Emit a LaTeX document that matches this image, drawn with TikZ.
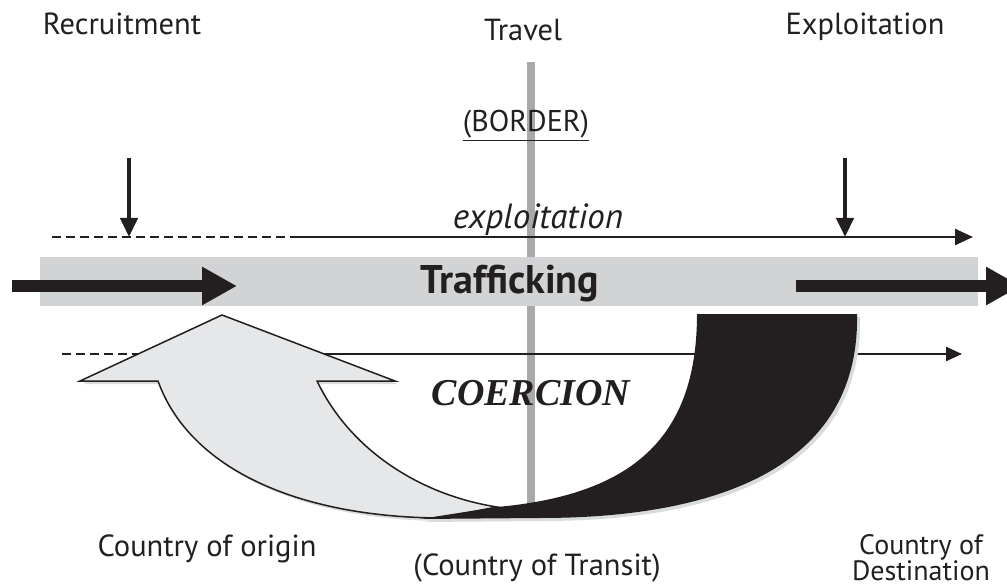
\documentclass[tikz,border=0pt]{standalone}
\usepackage{fontspec}
\setmainfont{PT Sans}
\newfontfamily\timesfont{Liberation Serif}
\usetikzlibrary{arrows.meta}

\definecolor{inkblack}{RGB}{35,31,32}
\definecolor{bandgray}{RGB}{209,211,212}
\definecolor{bordergray}{RGB}{167,169,172}
\definecolor{arrowgray}{RGB}{230,231,232}
\definecolor{shadowgray}{RGB}{218,219,221}

\tikzset{
  lbl/.style={font=\fontsize{30.5}{33}\selectfont, text=inkblack, anchor=base, inner sep=0pt},
  timeline/.style={draw=inkblack, line width=2.4pt},
  dashline/.style={timeline, dash pattern=on 9pt off 5pt},
  downarrow/.style={draw=inkblack, line width=4.5pt, -{Triangle[length=19pt,width=17pt]}},
  fatarrow/.style={draw=inkblack, line width=12pt, -{Triangle[length=35pt,width=36pt]}},
  shadowed/.style={preaction={fill=shadowgray, transform canvas={shift={(3pt,-3pt)}}}}
}

\begin{document}
\begin{tikzpicture}[x=1pt,y=-1pt]
  \useasboundingbox (0,0) rectangle (1007,588);

  % Border line
  \draw[bordergray, line width=8pt] (531,62) -- (531,505);

  % Trafficking band
  \fill[bandgray] (40,257) rectangle (978,306);
  \node[lbl, font=\fontsize{40}{44}\selectfont\bfseries] (traffic) at (510,293) {Trafficking};

  % Thick arrows
  \coordinate (inStart) at (12,286);
  \coordinate (inEnd) at (237,286);
  \coordinate (outStart) at (796,286);
  \coordinate (outEnd) at (1021,286);
  \draw[fatarrow] (inStart) -- (inEnd);
  \draw[fatarrow] (outStart) -- (outEnd);

  % Exploitation line
  \coordinate (exStart) at (52,237);
  \coordinate (exMid) at (296,237);
  \coordinate (exEnd) at (973,237);
  \draw[dashline] (exStart) -- (exMid);
  \draw[timeline, -{Triangle[length=18pt,width=16pt]}] (exMid) -- (exEnd);
  \node[lbl, font=\fontsize{35}{40}\selectfont\itshape] (exploit) at (538,229) {exploitation};

  % Down arrows
  \coordinate (recTop) at (129,158);
  \coordinate (recHit) at (129,237);
  \coordinate (expTop) at (845,158);
  \coordinate (expHit) at (845,237);
  \draw[downarrow] (recTop) -- (recHit);
  \draw[downarrow] (expTop) -- (expHit);

  % Coercion line
  \coordinate (coStart) at (62,354);
  \coordinate (coMid) at (300,354);
  \coordinate (coEnd) at (962,354);
  \draw[dashline] (coStart) -- (coMid);
  \draw[timeline, -{Triangle[length=16pt,width=14pt]}] (coMid) -- (coEnd);

  % Grey return arrow
  \filldraw[shadowed, fill=arrowgray, draw=inkblack, line width=1.5pt, line join=miter]
    (80,381) -- (222,315) -- (395,381) -- (317,381)
    .. controls (350,450) and (420,495) .. (497,507)
    -- (440,518) .. controls (300,517) and (190,470) .. (158,381) -- cycle;

  % Black arrow body
  \fill[shadowed, inkblack]
    (697,314) -- (857,314) .. controls (860,460) and (730,518) .. (540,518)
    -- (420,519) -- (497,507)
    .. controls (630,495) and (697,440) .. (697,314) -- cycle;

  \node[lbl, font=\fontsize{38}{42}\timesfont\bfseries\itshape] (coercion) at (531,405) {COERCION};

  % Stage labels
  \node[lbl] (recruit) at (122,35) {Recruitment};
  \node[lbl] (travel) at (523,41) {Travel};
  \node[lbl] (exploitation) at (865,35) {Exploitation};
  \node[lbl, font=\fontsize{30}{33}\selectfont] (border) at (526,132) {\underline{(BORDER)}};

  % Country labels
  \node[lbl] (origin) at (207,556) {Country of origin};
  \node[lbl] (transit) at (537,575) {(Country of Transit)};
  \node[lbl, font=\fontsize{28}{26}\selectfont, align=center, anchor=south] (dest) at (921,581) {Country of\\Destination};
\end{tikzpicture}
\end{document}
